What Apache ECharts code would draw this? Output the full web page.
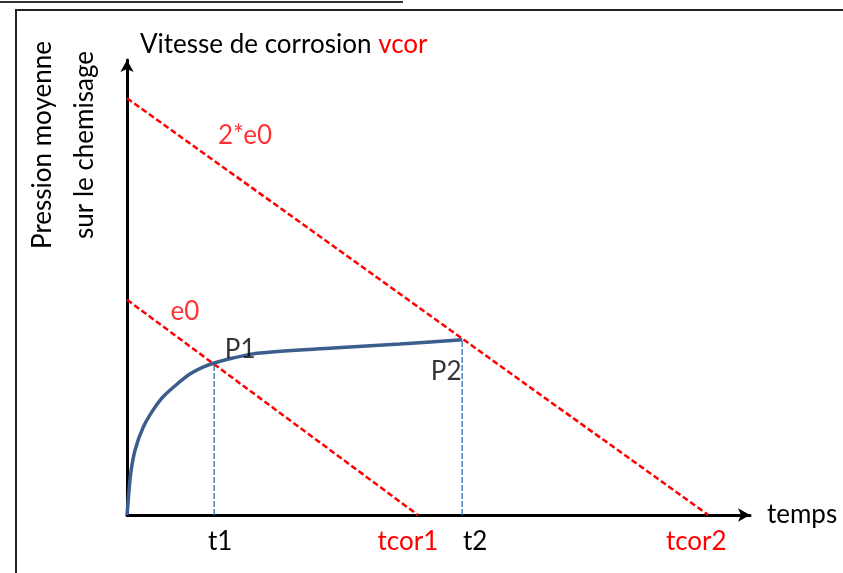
<!DOCTYPE html>
<html>
<head>
<meta charset="utf-8">
<title>Pression moyenne sur le chemisage</title>
<script src="https://cdn.jsdelivr.net/npm/echarts@6/dist/echarts.min.js"></script>
<style>
  html, body { margin: 0; padding: 0; background: #fff; }
  #chart { width: 843px; height: 573px; }
</style>
</head>
<body>
<div id="chart"></div>
<script>
// temps caracteristiques (axe x)
const tickLabels = ['t1', 'tcor1', 't2', 'tcor2'];
const tickValues = [1.4, 4.67, 5.38, 9.33];

// epaisseurs (droites de corrosion)
const e0 = 4.73;
const e0Double = 9.16;

// pression moyenne sur le chemisage
const curveT = [0, 0.02, 0.06, 0.13, 0.26, 0.42, 0.58, 0.85, 1.01, 1.22, 1.4, 1.7, 2.13, 3.31, 4.38, 5.38];
const curveP = [0, 0.33, 0.92, 1.43, 1.93, 2.31, 2.6, 2.93, 3.1, 3.25, 3.34, 3.45, 3.56, 3.67, 3.76, 3.85];

const FONT = 'Lato';
const RED = '#ff0000';
const BLUE_CURVE = '#3b5e8c';
const BLUE_DASH = '#4f81bd';

// couleur + petit decalage horizontal des etiquettes de l'axe x
const tickStyle = {
  t1: { color: '#000', shift: 6 },
  tcor1: { color: RED, shift: -10 },
  t2: { color: '#000', shift: 13 },
  tcor2: { color: RED, shift: -12 }
};

const t1 = tickValues[0];
const tcor1 = tickValues[1];
const t2 = tickValues[2];
const tcor2 = tickValues[3];
const p1 = curveP[curveT.indexOf(t1)];
const p2 = curveP[curveP.length - 1];

let rich = {};
tickLabels.forEach((name, i) => {
  let s = tickStyle[name];
  rich['l' + i] = {
    color: s.color,
    fontSize: 26,
    fontFamily: FONT,
    padding: s.shift > 0 ? [0, 0, 0, 2 * s.shift] : [0, -2 * s.shift, 0, 0]
  };
});

let dashRed = { color: RED, width: 2.5, type: [6, 3] };
let dashBlue = { color: BLUE_DASH, width: 1.5, type: [6, 2] };

let myChart = echarts.init(document.getElementById('chart'), null, { renderer: 'canvas' });

let option = {
  backgroundColor: '#fff',
  animation: false,
  textStyle: { fontFamily: FONT },
  grid: { left: 127, right: 93, top: 60, bottom: 58 },
  xAxis: {
    type: 'value',
    min: 0,
    max: 10,
    name: 'temps',
    nameLocation: 'end',
    nameGap: 17,
    nameTextStyle: { fontSize: 26, color: '#000', fontFamily: FONT, verticalAlign: 'middle', padding: [0, 0, 8, 0] },
    axisLine: { lineStyle: { color: '#000', width: 3 }, symbol: ['none', 'arrow'], symbolSize: [10, 12] },
    axisTick: { show: false },
    splitLine: { show: false },
    axisLabel: {
      margin: 14,
      customValues: tickValues,
      formatter: function (v) {
        let i = tickValues.indexOf(v);
        return i < 0 ? '' : '{l' + i + '|' + tickLabels[i] + '}';
      },
      rich: rich
    }
  },
  yAxis: {
    type: 'value',
    min: 0,
    max: 10,
    name: 'Vitesse de corrosion {r|vcor}',
    nameLocation: 'end',
    nameGap: 15,
    nameTextStyle: {
      fontSize: 26,
      color: '#000',
      fontFamily: FONT,
      align: 'left',
      verticalAlign: 'middle',
      padding: [0, 0, 0, 13],
      rich: { r: { color: RED, fontSize: 26, fontFamily: FONT } }
    },
    axisLine: { lineStyle: { color: '#000', width: 3 }, symbol: ['none', 'arrow'], symbolSize: [10, 12] },
    axisTick: { show: false },
    axisLabel: { show: false },
    splitLine: { show: false }
  },
  graphic: [
    { type: 'line', shape: { x1: 0, y1: 2, x2: 403, y2: 2 }, style: { stroke: '#333', lineWidth: 2 } },
    { type: 'polyline', shape: { points: [[16, 573], [16, 10], [843, 10]] }, style: { stroke: '#222', lineWidth: 2, fill: null } },
    {
      type: 'text',
      x: 64,
      y: 145,
      rotation: Math.PI / 2,
      style: {
        text: 'Pression moyenne\nsur le chemisage',
        fontSize: 26,
        fontFamily: FONT,
        fill: '#000',
        align: 'center',
        verticalAlign: 'middle',
        lineHeight: 42
      }
    }
  ],
  series: [
    {
      name: 'vertical t1',
      type: 'line',
      symbol: 'none',
      data: [[t1, 0], [t1, p1]],
      lineStyle: dashBlue,
      z: 1
    },
    {
      name: 'vertical t2',
      type: 'line',
      symbol: 'none',
      data: [[t2, 0], [t2, p2]],
      lineStyle: dashBlue,
      z: 1
    },
    {
      name: 'e0',
      type: 'line',
      symbol: 'none',
      data: [[0, e0], [tcor1, 0]],
      lineStyle: dashRed,
      z: 2
    },
    {
      name: '2*e0',
      type: 'line',
      symbol: 'none',
      data: [[0, e0Double], [tcor2, 0]],
      lineStyle: dashRed,
      z: 2
    },
    {
      name: 'pression',
      type: 'line',
      symbol: 'none',
      smooth: 0.3,
      data: curveT.map((t, i) => [t, curveP[i]]),
      lineStyle: { color: BLUE_CURVE, width: 3.5 },
      z: 3
    },
    {
      name: 'etiquettes',
      type: 'scatter',
      symbolSize: 1,
      itemStyle: { color: 'rgba(0,0,0,0)' },
      z: 4,
      label: {
        show: true,
        position: 'inside',
        fontSize: 26,
        fontFamily: FONT,
        formatter: '{b}'
      },
      data: [
        { name: '2*e0', value: [0, e0Double], label: { color: RED, offset: [118, 37] } },
        { name: 'e0', value: [0, e0], label: { color: RED, offset: [58, 12] } },
        { name: 'P1', value: [t1, p1], label: { color: '#000', offset: [26, -13] } },
        { name: 'P2', value: [t2, p2], label: { color: '#000', offset: [-16, 32] } }
      ]
    }
  ]
};

myChart.setOption(option);
</script>
</body>
</html>
